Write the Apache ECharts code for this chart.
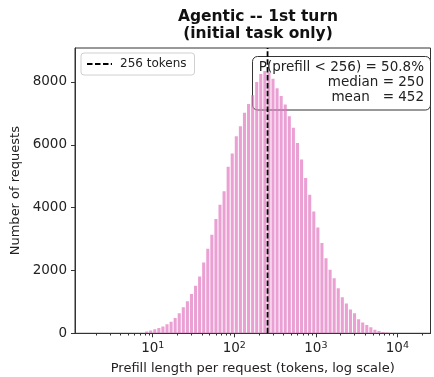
<!DOCTYPE html>
<html>
<head>
<meta charset="utf-8">
<script src="https://cdn.jsdelivr.net/npm/echarts@6/dist/echarts.min.js"></script>
<style>html,body{margin:0;padding:0;background:#fff}#c{width:434px;height:377px}</style>
</head>
<body>
<div id="c"></div>
<script>
// ---- data ----
const titleText = 'Agentic -- 1st turn\n(initial task only)';
const xLabel = 'Prefill length per request (tokens, log scale)';
const yLabel = 'Number of requests';
// log-spaced histogram bins: 20 bins per decade, first edge 10^0.9
const binStartExp = 0.9;
const binsPerDecade = 20;
const counts = [
  60, 90, 125, 165, 215, 285, 370, 490, 640, 830,
  1020, 1250, 1510, 1810, 2250, 2690, 3140, 3640, 4090, 4520,
  5300, 5720, 6270, 6590, 7020, 7300, 7580, 8000, 8250, 8350,
  8300, 8100, 7800, 7550, 7280, 6910, 6540, 6060, 5530, 4940,
  4410, 3880, 3370, 2870, 2390, 2020, 1750, 1435, 1150, 950,
  760, 640, 450, 340, 265, 190, 110, 70, 45, 25
];
const threshold = 256;
const thresholdName = '256 tokens';
const xMajorTicks = [10, 100, 1000, 10000];
const yTicks = [0, 2000, 4000, 6000, 8000];
const statLines = ['P(prefill < 256) = 50.8%', 'median = 250', 'mean   = 452'];
const xMin = 1.113, xMax = 25500, yMax = 9080;

// ---- build ----
const bins = counts.map((c, i) => [
  Math.pow(10, binStartExp + i / binsPerDecade),
  Math.pow(10, binStartExp + (i + 1) / binsPerDecade),
  c
]);
const xMinorTicks = [];
for (let d = 1; d <= 10000; d *= 10) for (let k = 2; k <= 9; k++) {
  const v = k * d; if (v > xMin && v < xMax) xMinorTicks.push(v);
}
const FONT = 'DejaVu Sans';
const dashIcon = 'path://M0,0h5.5v2h-5.5z M8,0h5.5v2h-5.5z M16,0h5.5v2h-5.5z M23.8,0h1.2v2h-1.2z';
const chart = echarts.init(document.getElementById('c'), null, {renderer: 'canvas'});
chart.setOption({
  animation: false,
  backgroundColor: '#fff',
  textStyle: {fontFamily: FONT},
  title: {
    text: titleText, left: 253, top: 3, textAlign: 'center',
    textStyle: {fontFamily: FONT, fontWeight: 'bold', fontSize: 15.5, color: '#111', lineHeight: 17}
  },
  grid: {left: 75, right: 3.5, top: 48, bottom: 43.7, containLabel: false, outerBoundsMode: 'none',
    show: true, borderColor: '#333', borderWidth: 1, backgroundColor: 'transparent'},
  legend: {
    data: [{name: thresholdName, icon: dashIcon}], left: 81, top: 53, orient: 'vertical',
    padding: [5, 8, 5, 6], itemWidth: 25, itemHeight: 2, itemGap: 5,
    borderColor: '#d0d0d0', borderWidth: 1, borderRadius: 3, backgroundColor: 'rgba(255,255,255,0.8)',
    itemStyle: {color: '#000', borderWidth: 0},
    textStyle: {fontFamily: FONT, fontSize: 12, color: '#222', padding: [0, 0, 0, 3]}
  },
  xAxis: [{
    type: 'log', min: xMin, max: xMax, logBase: 10,
    name: xLabel, nameLocation: 'middle', nameGap: 29,
    nameTextStyle: {fontFamily: FONT, fontSize: 13, color: '#222'},
    axisLine: {show: true, lineStyle: {color: '#333', width: 1}},
    axisTick: {show: true, inside: false, length: 4, customValues: xMajorTicks, lineStyle: {color: '#333'}},
    axisLabel: {
      customValues: xMajorTicks, margin: 7,
      formatter: v => '{b|10}{s|' + Math.round(Math.log10(v)) + '}',
      rich: {
        b: {fontFamily: FONT, fontSize: 13.5, color: '#222', lineHeight: 17},
        s: {fontFamily: FONT, fontSize: 9.5, color: '#222', verticalAlign: 'top', lineHeight: 10}
      }
    },
    splitLine: {show: false}, minorTick: {show: false}
  }, {
    type: 'log', min: xMin, max: xMax, logBase: 10, position: 'bottom',
    axisLine: {show: false},
    axisTick: {show: true, length: 2.2, customValues: xMinorTicks, lineStyle: {color: '#333'}},
    axisLabel: {show: false}, splitLine: {show: false}
  }],
  yAxis: {
    type: 'value', min: 0, max: yMax,
    name: yLabel, nameLocation: 'middle', nameGap: 46,
    nameTextStyle: {fontFamily: FONT, fontSize: 13, color: '#222'},
    axisLine: {show: true, lineStyle: {color: '#333', width: 1}},
    axisTick: {show: true, length: 4, customValues: yTicks, lineStyle: {color: '#333'}},
    axisLabel: {customValues: yTicks, margin: 8, fontFamily: FONT, fontSize: 13.5, color: '#222',
      formatter: v => String(v)},
    splitLine: {show: false}
  },
  series: [{
    type: 'custom', name: 'hist', xAxisIndex: 0, yAxisIndex: 0,
    data: bins, clip: true, z: 2,
    renderItem: function (params, api) {
      const p0 = api.coord([api.value(0), api.value(2)]);
      const p1 = api.coord([api.value(1), 0]);
      const x = p0[0] + 0.5, w = Math.max(p1[0] - p0[0] - 1, 0.5);
      return {
        type: 'rect',
        shape: {x: x, y: p0[1], width: w, height: p1[1] - p0[1]},
        style: {fill: 'rgba(227,119,194,0.7)'}
      };
    }
  }, {
    type: 'line', name: thresholdName, xAxisIndex: 0, yAxisIndex: 0,
    data: [[threshold, 0], [threshold, yMax]],
    symbol: 'none', z: 5, silent: true,
    lineStyle: {color: '#000', width: 1.8, type: [5.5, 2.4]},
    itemStyle: {color: '#000'}
  }],
  graphic: [{
    type: 'group', z: 100,
    children: [{
      type: 'rect', shape: {x: 252.5, y: 56.5, width: 178, height: 53.5, r: 5},
      style: {fill: 'rgba(255,255,255,0.82)', stroke: '#333', lineWidth: 1}
    }, {
      type: 'text', x: 424, y: 60,
      style: {text: statLines.join('\n'), align: 'right', verticalAlign: 'top',
        font: '13.5px "DejaVu Sans"', lineHeight: 15, fill: '#222'}
    }]
  }]
});
</script>
</body>
</html>
